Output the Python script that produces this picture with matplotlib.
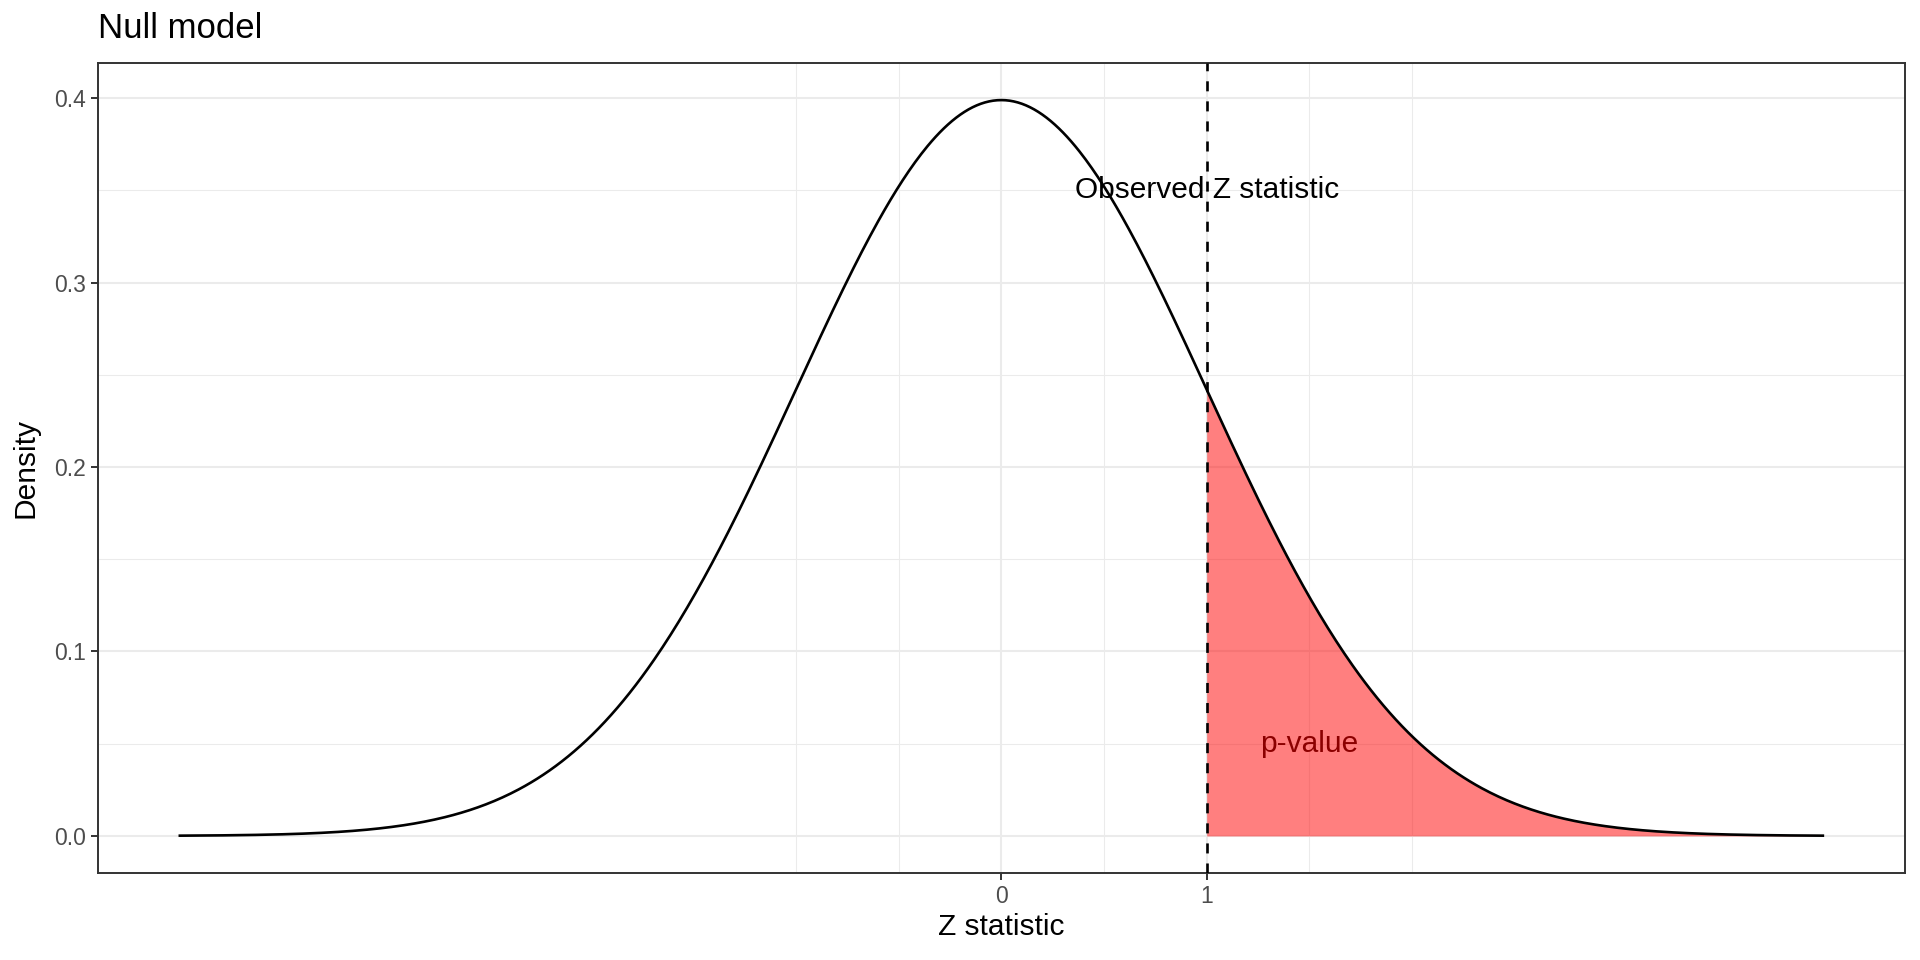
import matplotlib.pyplot as plt
import numpy as np

plt.rcParams['font.family'] = ['Liberation Sans', 'DejaVu Sans']

# data
z_min, z_max = -4, 4
n_points = 801
null_mean, null_sd = 0, 1
observed_z = 1
z_ticks = [0, 1]
z_minor = [-1, -0.5, 0.5, 1.5, 2]
density_ticks = [0.0, 0.1, 0.2, 0.3, 0.4]
density_minor = [0.05, 0.15, 0.25, 0.35]
obs_label = 'Observed Z statistic'
obs_label_y = 0.35
pval_label = 'p-value'
pval_label_xy = (1.5, 0.05)

# null model density (standard normal, as the reference curve)
z = np.linspace(z_min, z_max, n_points)
dens = np.exp(-0.5 * ((z - null_mean) / null_sd) ** 2) / (null_sd * np.sqrt(2 * np.pi))
tail = z >= observed_z - 1e-9

W, H = 1920, 960
fig = plt.figure(figsize=(19.2, 9.6), dpi=100)
left, right, top, bottom = 97.7, 1905, 63.3, 872.7
ax = fig.add_axes([left / W, 1 - bottom / H, (right - left) / W, (bottom - top) / H])

grid_col = '#EBEBEB'
ax.set_xticks(z_ticks)
ax.set_xticks(z_minor, minor=True)
ax.set_yticks(density_ticks)
ax.set_yticks(density_minor, minor=True)
ax.grid(which='major', color=grid_col, linewidth=1.45, zorder=0)
ax.grid(which='minor', color=grid_col, linewidth=0.75, zorder=0)
ax.set_axisbelow(True)

ax.fill_between(z[tail], 0, dens[tail], color='red', alpha=0.5, linewidth=0, zorder=2)
ax.plot(z, dens, color='black', linewidth=1.9, zorder=3)
ax.axvline(observed_z, color='black', linewidth=1.9, linestyle=(0, (3.8, 3.8)), zorder=4)

ax.text(observed_z, obs_label_y, obs_label, ha='center', va='center', fontsize=21.5,
        color='black', zorder=5)
ax.text(pval_label_xy[0], pval_label_xy[1], pval_label, ha='center', va='center',
        fontsize=21.5, color='#8B0000', zorder=5)

span_x = z_max - z_min
ax.set_xlim(z_min - 0.05 * span_x, z_max + 0.05 * span_x)
span_y = dens.max()
ax.set_ylim(-0.05 * span_y, dens.max() + 0.05 * span_y)

for s in ax.spines.values():
    s.set_color('#333333')
    s.set_linewidth(1.4)

ax.set_xticklabels([str(t) for t in z_ticks])
ax.set_yticklabels([f'{t:.1f}' for t in density_ticks])
ax.tick_params(which='major', length=5.2, width=1.4, color='#333333',
               labelsize=16.5, labelcolor='#4D4D4D', pad=3.5)
ax.tick_params(which='minor', length=0)

ax.set_xlabel('Z statistic', fontsize=21.5, color='black')
ax.set_ylabel('Density', fontsize=21.5, color='black')
ax.xaxis.set_label_coords(0.5, -(927 - bottom) / (bottom - top))
ax.xaxis.label.set_va('center')
ax.yaxis.set_label_coords(-(left - 25) / (right - left), 0.5)
ax.yaxis.label.set_va('center')

fig.text(left / W, 1 - 28 / H, 'Null model', ha='left', va='center', fontsize=25, color='black')

fig.savefig('out.png', dpi=100, facecolor='white')
